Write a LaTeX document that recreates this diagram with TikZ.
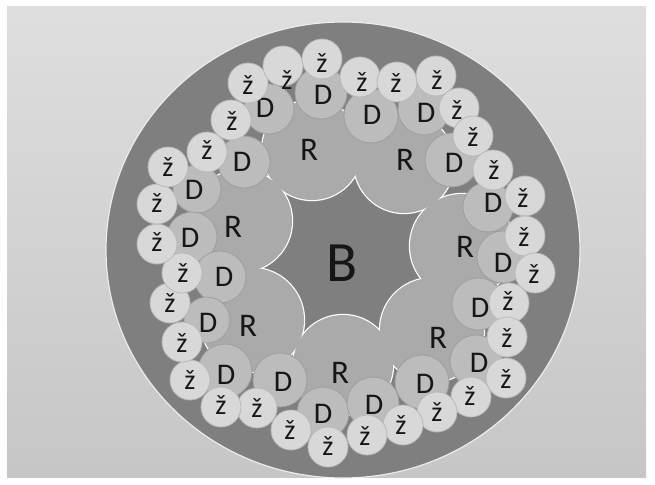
\documentclass[tikz,border=0pt]{standalone}
\usepackage{fontspec}
\setmainfont{Carlito}
\definecolor{bgtop}{RGB}{222,222,222}
\definecolor{bgbot}{RGB}{198,198,198}
\definecolor{ringfill}{RGB}{127,127,127}
\definecolor{rfill}{RGB}{170,170,170}
\definecolor{dfill}{RGB}{188,188,188}
\definecolor{dline}{RGB}{158,158,158}
\definecolor{zfill}{RGB}{216,216,216}
\definecolor{zline}{RGB}{184,184,184}
\definecolor{ink}{RGB}{22,22,22}

\begin{document}
\begin{tikzpicture}[x=1pt,y=-1pt,
    every node/.style={inner sep=0pt,text=ink},
    rlab/.style={font=\fontsize{33pt}{33pt}\selectfont},
    dlab/.style={font=\fontsize{30pt}{30pt}\selectfont},
    zlab/.style={font=\fontsize{28pt}{28pt}\selectfont}]
    \useasboundingbox (0,0) rectangle (655,484);
    \fill[white] (0,0) rectangle (655,484);
    \shade[top color=bgtop,bottom color=bgbot] (7,7) rectangle (646,477);
    \fill[ringfill] (343,250) ellipse [x radius=237,y radius=228];
    \draw[white!85!gray,line width=1.2pt] (343,250) ellipse [x radius=237,y radius=228];
    \foreach \cx/\cy/\r in {312/150/50,404/163/50,462/246/52,432/330/52,
        343/365/50,252/320/52,241/221/51}
        \draw[white,line width=2.4pt] (\cx,\cy) circle[radius=\r];
    \foreach \cx/\cy/\r in {312/150/50,404/163/50,462/246/52,432/330/52,
        343/365/50,252/320/52,241/221/51}
        \fill[rfill] (\cx,\cy) circle[radius=\r];
    \foreach \tx/\ty [count=\i] in {309/150,405/160,465/247,438/338,
        340/373,248/326,233/227}
        \node[rlab] (r\i) at (\tx,\ty) {R};
    \node[font=\fontsize{57pt}{57pt}\selectfont] (b) at (342,263) {B};
    \foreach \cx/\cy/\r [count=\i] in {269/109/25,321/93/26,371/116/27,
        424/109/26,452/160/27,244/162/26,197/189/24,192/237/25,220/277/26,
        207/320/23,225/371/27,280/380/27,323/413/26,373/403/26,422/382/27,
        476/361/26,478/304/26,503/257/26,488/207/25}
        \fill[dfill,draw=dline,line width=.8pt] (\cx,\cy) circle[radius=\r];
    \foreach \tx/\ty [count=\i] in {265/108,323/95,372/115,426/113,454/163,
        242/162,194/190,190/238,224/277,208/323,226/375,283/382,323/414,
        374/405,425/384,479/363,480/308,503/263,493/203}
        \node[dlab] (d\i) at (\tx,\ty) {D};
    \foreach \cx/\cy in {248/83,283/66,322/59,360/77,397/82,436/76,459/108,
        473/136,493/170,525/196,525/236,535/273,509/303,507/337,506/378,
        471/397,437/412,403/425,367/435,328/447,291/430,257/408,221/407,
        190/380,182/342,170/303,182/273,157/244,157/204,168/167,207/152,
        231/120}
        \fill[zfill,draw=zline,line width=.8pt] (\cx,\cy) circle[radius=20];
    \foreach \tx/\ty [count=\i] in {248/85,287/80,322/63,362/82,396/83,
        437/80,457/110,473/137,494/170,523/198,524/237,534/274,508/301,
        507/338,506/379,470/396,437/412,401/425,365/436,328/446,290/430,
        257/408,221/405,190/380,182/343,170/303,183/273,157/242,157/203,
        168/167,207/150,232/121}
        \node[zlab] (z\i) at (\tx,\ty) {ž};
\end{tikzpicture}
\end{document}
